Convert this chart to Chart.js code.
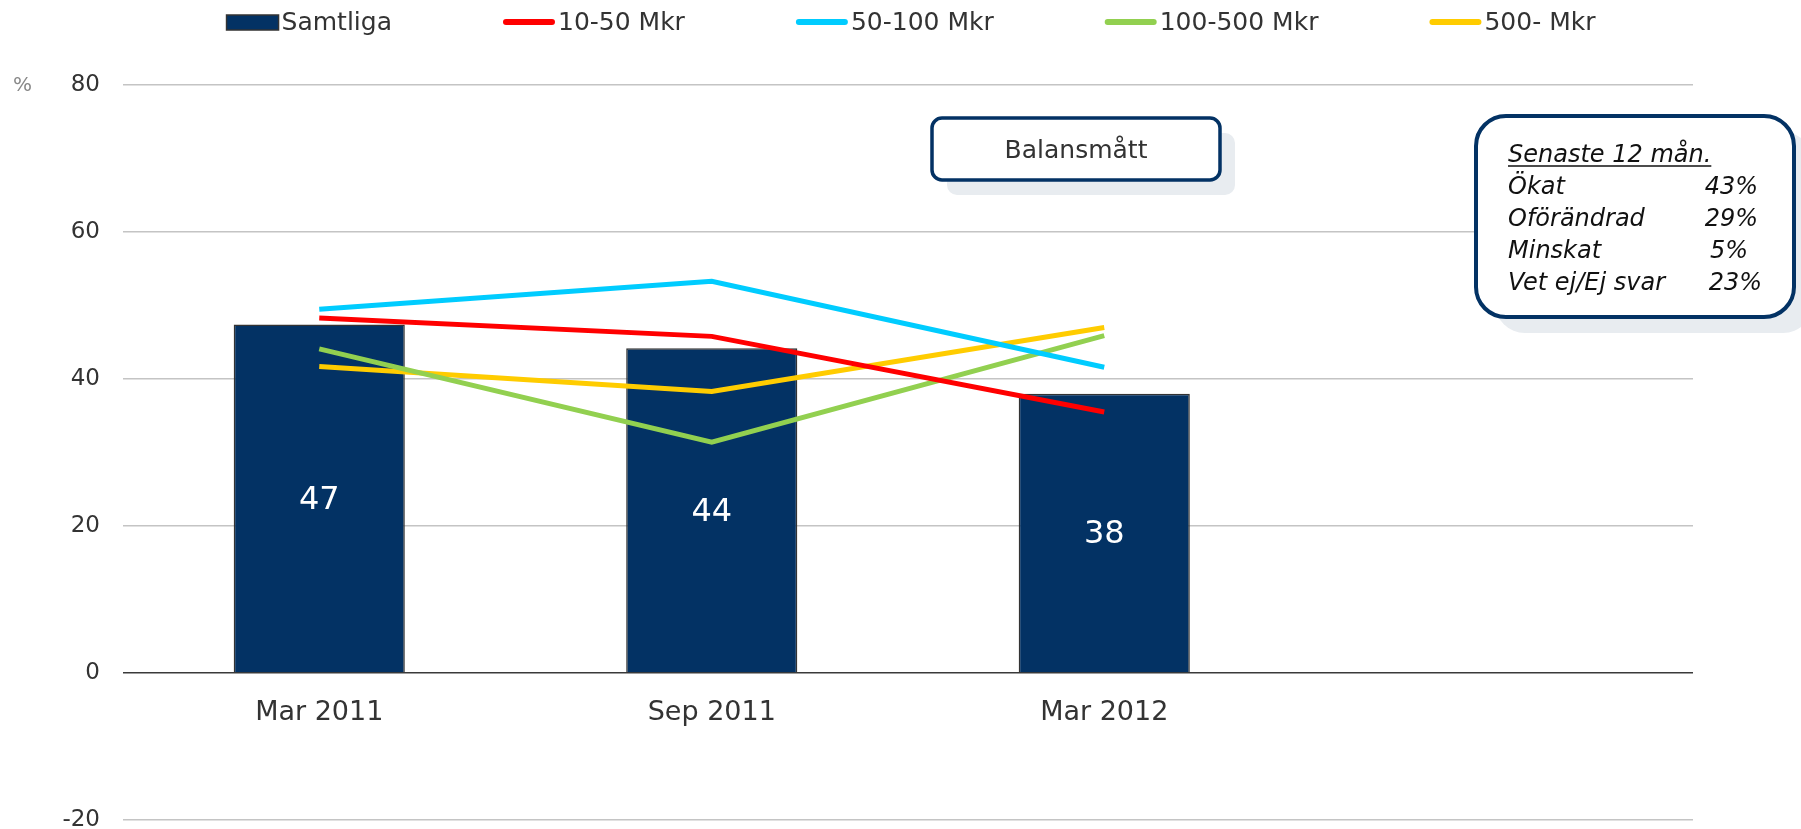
<!DOCTYPE html>
<html>
<head>
<meta charset="utf-8">
<script src="https://cdn.jsdelivr.net/npm/chart.js@4.4.1/dist/chart.umd.min.js"></script>
<style>
    html, body { margin: 0; padding: 0; background: #fff; }
    canvas { display: block; }
</style>
</head>
<body>
<canvas id="balans" width="1801" height="829"></canvas>
<script>
    // Data
    var categories = ["Mar 2011", "Sep 2011", "Mar 2012", ""];
    var samtliga = [47.4, 44.2, 38.0, null];
    var mkr10_50 = [48.3, 45.8, 35.5, null];
    var mkr50_100 = [49.5, 53.3, 41.6, null];
    var mkr100_500 = [44.1, 31.4, 45.9, null];
    var mkr500 = [41.7, 38.3, 47.0, null];
    var yTicks = [-20, 0, 20, 40, 60, 80];
    var infoTitle = "Senaste 12 mån.";
    var infoLabels = ["Ökat", "Oförändrad", "Minskat", "Vet ej/Ej svar"];
    var infoValues = ["43%", "29%", "5%", "23%"];

    var navy = "#033264";
    var font = '"DejaVu Sans", sans-serif';

    // Legend row on top
    var legendRow = {
        id: 'legendRow',
        afterDraw: function (chart) {
            var ctx = chart.ctx;
            var sets = chart.data.datasets;
            var box = 52, textGap = 3, gap = 111, y = 22;
            ctx.save();
            ctx.font = '25px ' + font;
            var total = 0;
            sets.forEach(function (ds) {
                total += box + textGap + ctx.measureText(ds.label).width;
            });
            total += gap * (sets.length - 1);
            var x = 911 - total / 2;
            sets.forEach(function (ds) {
                if (ds.type === 'bar') {
                    ctx.fillStyle = ds.backgroundColor;
                    ctx.fillRect(x, y - 7, box, 15);
                    ctx.strokeStyle = '#333';
                    ctx.lineWidth = 1.5;
                    ctx.strokeRect(x, y - 7, box, 15);
                } else {
                    ctx.strokeStyle = ds.borderColor;
                    ctx.lineWidth = 6;
                    ctx.lineCap = 'round';
                    ctx.beginPath();
                    ctx.moveTo(x + 3, y);
                    ctx.lineTo(x + box - 3, y);
                    ctx.stroke();
                }
                ctx.fillStyle = '#333';
                ctx.textBaseline = 'middle';
                ctx.textAlign = 'left';
                ctx.fillText(ds.label, x + box + textGap, y + 1);
                x += box + textGap + ctx.measureText(ds.label).width + gap;
            });
            // % sign
            ctx.fillStyle = '#888';
            ctx.font = '20px ' + font;
            ctx.fillText('%', 13, 86);
            ctx.restore();
        }
    };

    // Values inside the bars
    var barValues = {
        id: 'barValues',
        afterDatasetsDraw: function (chart) {
            var ctx = chart.ctx;
            var meta = chart.getDatasetMeta(0);
            ctx.save();
            ctx.fillStyle = '#fff';
            ctx.font = '32px ' + font;
            ctx.textAlign = 'center';
            ctx.textBaseline = 'middle';
            meta.data.forEach(function (bar, i) {
                var v = chart.data.datasets[0].data[i];
                if (v === null) return;
                ctx.fillText(Math.round(v), bar.x, (bar.y + bar.base) / 2 + 2);
            });
            ctx.restore();
        }
    };

    function roundBox(ctx, x, y, w, h, r, shadowDx, shadowDy) {
        ctx.fillStyle = '#e8ecf0';
        ctx.beginPath();
        ctx.roundRect(x + shadowDx, y + shadowDy, w, h, r);
        ctx.fill();
        ctx.fillStyle = '#fff';
        ctx.strokeStyle = navy;
        ctx.beginPath();
        ctx.roundRect(x, y, w, h, r);
        ctx.fill();
        ctx.stroke();
    }

    // Annotation boxes
    var boxes = {
        id: 'boxes',
        afterDraw: function (chart) {
            var ctx = chart.ctx;
            ctx.save();
            ctx.lineWidth = 3.5;
            roundBox(ctx, 932, 118, 288, 62, 10, 15, 15);
            ctx.fillStyle = '#333';
            ctx.font = '25px ' + font;
            ctx.textAlign = 'center';
            ctx.textBaseline = 'middle';
            ctx.fillText('Balansmått', 1076, 151);

            ctx.lineWidth = 4;
            roundBox(ctx, 1476, 116, 318, 201, 30, 19, 16);
            ctx.fillStyle = '#111';
            ctx.font = 'italic 24px ' + font;
            ctx.textBaseline = 'alphabetic';
            ctx.textAlign = 'left';
            ctx.fillText(infoTitle, 1508, 162);
            var w = ctx.measureText(infoTitle).width;
            ctx.strokeStyle = '#111';
            ctx.lineWidth = 1.5;
            ctx.beginPath();
            ctx.moveTo(1508, 166);
            ctx.lineTo(1508 + w, 166);
            ctx.stroke();
            var rightX = [1758, 1758, 1748, 1762];
            infoLabels.forEach(function (lbl, i) {
                var yy = 194 + i * 32;
                ctx.textAlign = 'left';
                ctx.fillText(lbl, 1508, yy);
                ctx.textAlign = 'right';
                ctx.fillText(infoValues[i], rightX[i], yy);
            });
            ctx.restore();
        }
    };

    var ctx1 = document.getElementById('balans').getContext('2d');
    var myChart1 = new Chart(ctx1, {
        data: {
            labels: categories,
            datasets: [{
                    type: 'bar',
                    label: 'Samtliga',
                    data: samtliga,
                    backgroundColor: navy,
                    borderColor: '#333',
                    borderWidth: 1.5,
                    barPercentage: 0.436,
                    categoryPercentage: 1,
                    order: 2
                },
                {
                    type: 'line',
                    label: '10-50 Mkr',
                    data: mkr10_50,
                    borderColor: '#ff0000',
                    borderWidth: 5,
                    pointRadius: 0,
                    order: 1
                },
                {
                    type: 'line',
                    label: '50-100 Mkr',
                    data: mkr50_100,
                    borderColor: '#00ccff',
                    borderWidth: 5,
                    pointRadius: 0,
                    order: 1
                },
                {
                    type: 'line',
                    label: '100-500 Mkr',
                    data: mkr100_500,
                    borderColor: '#92d050',
                    borderWidth: 5,
                    pointRadius: 0,
                    order: 1
                },
                {
                    type: 'line',
                    label: '500- Mkr',
                    data: mkr500,
                    borderColor: '#ffcc00',
                    borderWidth: 5,
                    pointRadius: 0,
                    order: 1
                }
            ]
        },
        options: {
            responsive: false,
            animation: false,
            layout: {
                padding: {top: 85, right: 108, bottom: 9, left: 0}
            },
            plugins: {
                legend: {display: false},
                tooltip: {enabled: false}
            },
            scales: {
                x: {
                    position: {y: 0},
                    offset: true,
                    grid: {display: false, drawTicks: false},
                    border: {display: false},
                    ticks: {
                        color: '#333',
                        font: {family: font, size: 27},
                        padding: 24,
                        maxRotation: 0
                    }
                },
                y: {
                    min: -20,
                    max: 80,
                    afterBuildTicks: function (scale) {
                        scale.ticks = yTicks.map(function (v) { return {value: v}; });
                    },
                    afterFit: function (scale) {
                        scale.width = 123;
                    },
                    grid: {
                        color: function (c) { return c.tick.value === 0 ? '#3a3a3a' : '#c4c4c4'; },
                        lineWidth: 1.5,
                        drawTicks: true,
                        tickLength: 23,
                        tickColor: 'rgba(0,0,0,0)'
                    },
                    border: {display: false},
                    ticks: {
                        color: '#333',
                        font: {family: font, size: 23, lineHeight: 0.7},
                        padding: 0
                    }
                }
            }
        },
        plugins: [legendRow, barValues, boxes]
    });
</script>
</body>
</html>
